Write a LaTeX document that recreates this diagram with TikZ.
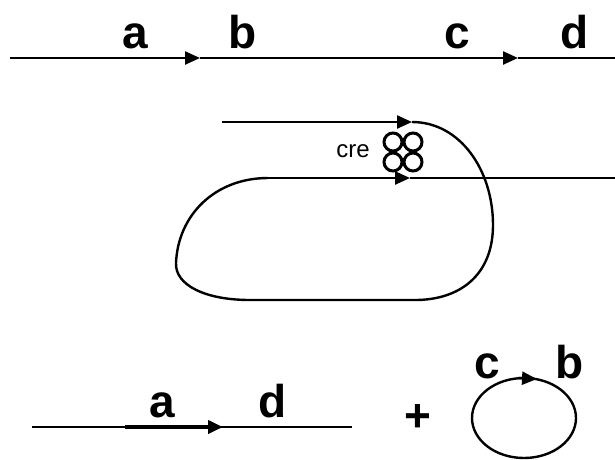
\documentclass[tikz,border=0pt]{standalone}
\usepackage{fontspec}
\setmainfont{Liberation Sans}
\usepackage{tikz}
\usetikzlibrary{arrows.meta, positioning, calc}
\tikzset{
  strand/.style={line width=2.4pt, black},
  arr/.style={-{Triangle[length=15pt, width=13pt]}},
  lbl/.style={font=\fontsize{46}{50}\selectfont\bfseries, anchor=base, inner sep=0pt},
  smalllbl/.style={font=\fontsize{24}{28}\selectfont, anchor=base, inner sep=0pt},
  lox/.style={line width=3pt, black},
}
\begin{document}
\begin{tikzpicture}[x=1pt, y=-1pt]
  \useasboundingbox (0,0) rectangle (615,459);

  % substrate with two sites
  \coordinate (s0) at (10,58);
  \coordinate (s1) at (200,58);
  \coordinate (s2) at (518,58);
  \coordinate (s3) at (615,58);
  \draw[strand, arr] (s0) -- (s1);
  \draw[strand, arr] (s1) -- (s2);
  \draw[strand] (s2) -- (s3);
  \node[lbl] (la) at (135,48) {a};
  \node[lbl] (lb) at (243,48) {b};
  \node[lbl] (lc) at (457,48) {c};
  \node[lbl] (ld) at (575,48) {d};

  % synapsis
  \coordinate (m0) at (222,122);
  \coordinate (m1) at (412,122);
  \coordinate (m2) at (268,178);
  \coordinate (m3) at (410,178);
  \coordinate (m4) at (615,178);
  \draw[strand, arr] (m0) -- (m1);
  \draw[strand] (m1) .. controls (460,122) and (493,170) .. (493,225)
    .. controls (493,275) and (460,300) .. (415,300) -- (250,300)
    .. controls (205,300) and (175,285) .. (176,263)
    .. controls (178,215) and (215,178) .. (m2);
  \draw[strand, arr] (m2) -- (m3);
  \draw[strand] (m3) -- (m4);
  \foreach \cx/\cy in {393/142, 413/142, 393/162, 413/162}
    \draw[lox] (\cx,\cy) circle (9);
  \node[smalllbl] (cre) at (353,157) {cre};

  % products
  \coordinate (p0) at (32,427);
  \coordinate (p1) at (125,427);
  \coordinate (p2) at (223,427);
  \coordinate (p3) at (352,427);
  \draw[strand] (p0) -- (p3);
  \draw[strand, line width=4pt, arr] (p1) -- (p2);
  \node[lbl] (pa) at (162,417) {a};
  \node[lbl] (pd) at (273,417) {d};
  \node[lbl, anchor=center] (plus) at (418,418) {+};

  \draw[strand] (524,418) ellipse [x radius=52, y radius=40];
  \coordinate (r0) at (518,378);
  \coordinate (r1) at (537,379);
  \draw[strand, arr] (r0) -- (r1);
  \node[lbl] (rc) at (487,378) {c};
  \node[lbl] (rb) at (570,378) {b};
\end{tikzpicture}
\end{document}
